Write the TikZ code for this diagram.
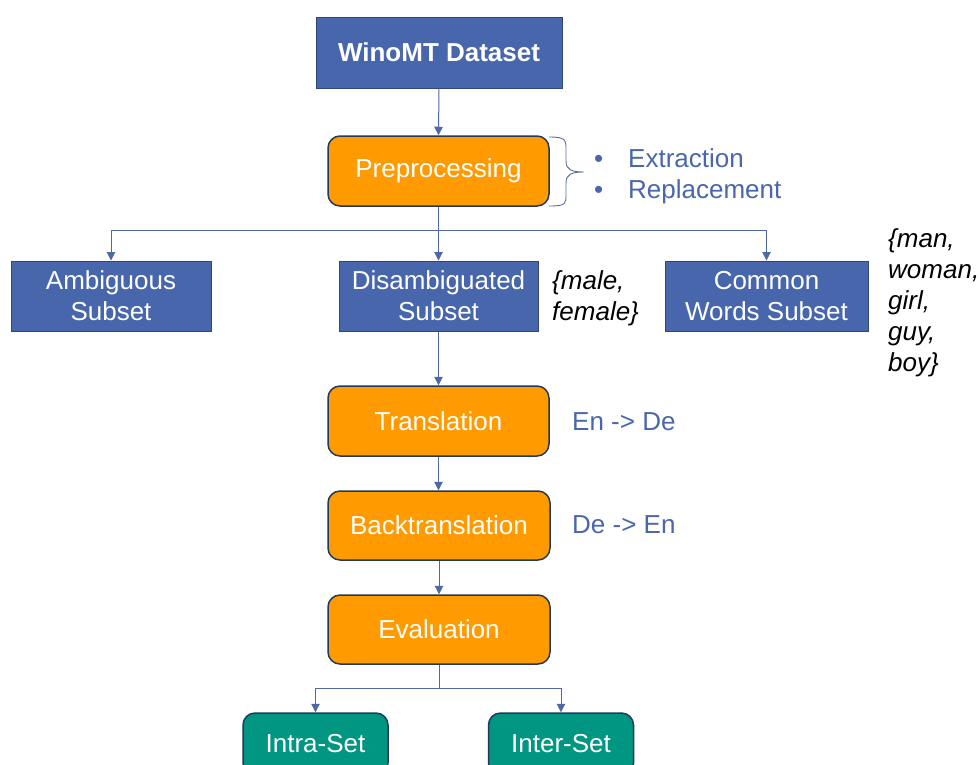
\documentclass[tikz,border=0pt]{standalone}
\usepackage{fontspec}
\setmainfont{Liberation Sans}
\usetikzlibrary{arrows.meta}
\definecolor{boxblue}{HTML}{4766AC}
\definecolor{boxborder}{HTML}{2F4778}
\definecolor{orng}{HTML}{FF9B00}
\definecolor{navy}{HTML}{1F3A5C}
\definecolor{teal}{HTML}{009682}
\definecolor{lineblue}{HTML}{5068A8}
\definecolor{txtblue}{HTML}{4A66AC}
\tikzset{
  bluebox/.style={draw=boxborder, line width=1pt, fill=boxblue, text=white, align=center,
    inner sep=0pt, font=\fontsize{26}{31}\selectfont},
  orbox/.style={draw=navy, line width=1.5pt, fill=orng, text=white, rounded corners=12pt,
    minimum width=221pt, minimum height=70pt, inner sep=0pt, font=\fontsize{26}{31}\selectfont},
  tealbox/.style={draw=navy, line width=1.5pt, fill=teal, text=white, rounded corners=12pt,
    minimum width=145pt, minimum height=62pt, inner sep=0pt, font=\fontsize{26}{31}\selectfont},
  conn/.style={draw=lineblue, line width=1pt, -{Triangle[width=8.5pt,length=8.5pt]}},
  plain/.style={draw=lineblue, line width=1pt},
  note/.style={text=txtblue, inner sep=0pt, font=\fontsize{26}{31}\selectfont},
  setnote/.style={text=black, inner sep=0pt, align=left, font=\fontsize{26}{31}\selectfont\itshape},
}
\begin{document}
\begin{tikzpicture}[x=1pt,y=-1pt]
\useasboundingbox (0,0) rectangle (980,764);
\clip (0,0) rectangle (980,764);
\fill[white] (0,0) rectangle (980,764);

\node[bluebox, minimum width=246pt, minimum height=71pt, font=\fontsize{26}{31}\selectfont\bfseries] (wino) at (439,52.5) {WinoMT Dataset};
\node[orbox] (pre) at (438.5,171) {Preprocessing};

\node[bluebox, minimum width=200pt, minimum height=70pt] (amb) at (111,296) {Ambiguous\\Subset};
\node[bluebox, minimum width=199pt, minimum height=70pt] (dis) at (438.5,296) {Disambiguated\\Subset};
\node[bluebox, minimum width=203pt, minimum height=70pt] (com) at (766.5,296) {Common\\Words Subset};

\node[orbox] (tra) at (438.5,421) {Translation};
\node[orbox, minimum width=222pt, minimum height=69pt] (bac) at (439,525.5) {Backtranslation};
\node[orbox, minimum width=222pt, minimum height=69pt] (eva) at (439,629.5) {Evaluation};

\node[tealbox] (intra) at (315.5,744) {Intra-Set};
\node[tealbox] (inter) at (561,744) {Inter-Set};

% connectors
\draw[conn] (wino.south) -- (pre.north);
\coordinate (split1) at (438.5,230);
\draw[plain] (pre.south) -- (split1);
\draw[conn] (split1) -| (amb.north);
\draw[conn] (split1) -| (com.north);
\draw[conn] (split1) -- (dis.north);
\draw[conn] (dis.south) -- (tra.north);
\draw[conn] (tra.south) -- (tra.south |- bac.north);
\draw[conn] (bac.south) -- (bac.south |- eva.north);
\coordinate (split2) at (439,688);
\draw[plain] (eva.south) -- (split2);
\draw[conn] (split2) -| (intra.north);
\draw[conn] (split2) -| (inter.north);

% brace
\draw[draw=lineblue!70!gray, line width=0.9pt]
  (549,137) .. controls (566,137) and (566,140) .. (566,150) -- (566,161)
  .. controls (566,170) and (572,172) .. (584,172)
  .. controls (572,172) and (566,174) .. (566,183) -- (566,194)
  .. controls (566,204) and (566,206) .. (549,206);

% annotations
\node[note, anchor=base west] (b1) at (594,167) {•};
\node[note, anchor=base west] (ext) at (628,167) {Extraction};
\node[note, anchor=base west] (b2) at (594,198) {•};
\node[note, anchor=base west] (rep) at (628,198) {Replacement};

\node[note, anchor=base west] (ende) at (572,430) {En -> De};
\node[note, anchor=base west] (deen) at (572,533) {De -> En};

\node[setnote, anchor=west] (mf) at (552,298) {\{male,\\female\}};
\node[setnote, anchor=west] (words) at (888,303) {\{man,\\woman,\\girl,\\guy,\\boy\}};
\end{tikzpicture}
\end{document}
